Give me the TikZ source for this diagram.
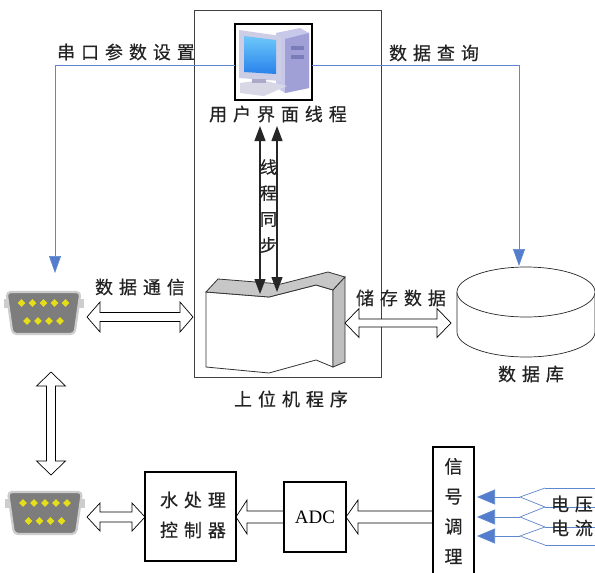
\documentclass[tikz,border=0pt]{standalone}
\usepackage{fontspec}
\setmainfont{Liberation Serif}
\newfontfamily\cjk[LetterSpace=33,FakeBold=0.5]{Noto Sans CJK SC}
\newfontfamily\cjkv[FakeBold=0.5]{Noto Sans CJK SC}
\usetikzlibrary{arrows.meta,calc}

\definecolor{wireblue}{RGB}{95,135,205}
\definecolor{tipblue}{RGB}{85,125,205}
\definecolor{txt}{RGB}{35,35,35}
\definecolor{pinyellow}{RGB}{230,222,25}
\definecolor{plug}{RGB}{125,125,125}
\definecolor{plugrim}{RGB}{205,205,205}

% letter-spaced label text without the trailing space
\newcommand\lst[1]{#1\kern-0.33em}

% hollow double-headed arrow between two points
% #3 shaft half width, #4 head half width, #5 head length
\newcommand\dblhollow[5]{%
  \path[hollow] let \p1=(#1), \p2=(#2),
      \n1={veclen(\x2-\x1,\y2-\y1)}, \n2={atan2(\y2-\y1,\x2-\x1)} in
    [shift={(\p1)}, rotate=\n2]
    (0,0) -- (#5,#4) -- (#5,#3) -- (\n1-#5,#3) -- (\n1-#5,#4) -- (\n1,0)
    -- (\n1-#5,-#4) -- (\n1-#5,-#3) -- (#5,-#3) -- (#5,-#4) -- cycle;}

% hollow single-headed arrow, open tail
\newcommand\onehollow[5]{%
  \path[hollow] let \p1=(#1), \p2=(#2),
      \n1={veclen(\x2-\x1,\y2-\y1)}, \n2={atan2(\y2-\y1,\x2-\x1)} in
    [shift={(\p1)}, rotate=\n2]
    (0,#3) -- (\n1-#5,#3) -- (\n1-#5,#4) -- (\n1,0)
    -- (\n1-#5,-#4) -- (\n1-#5,-#3) -- (0,-#3);}

% serial (DB9) connector icon
\newcommand\serialport[2]{%
  \begin{scope}[shift={(#1)}]
    \coordinate (#2) at (0,0);
    \fill[plugrim] (-40,-14) rectangle (-35,-5);
    \fill[plugrim] (35,-14) rectangle (40,-5);
    \draw[plugrim, line width=2.2pt, fill=plug, rounded corners=4pt]
      (-37,-21) -- (37,-21) -- (31,21) -- (-31,21) -- cycle;
    \foreach \px in {-22,-11,0,11,22}
      \fill[pinyellow] (\px,-10) +(-3.8,0) -- +(0,-3.8) -- +(3.8,0) -- +(0,3.8) -- cycle;
    \foreach \px in {-16.5,-5.5,5.5,16.5}
      \fill[pinyellow] (\px,8) +(-3.8,0) -- +(0,-3.8) -- +(3.8,0) -- +(0,3.8) -- cycle;
  \end{scope}}

\begin{document}
\begin{tikzpicture}[x=1pt,y=-1pt,
  lbl/.style={font=\cjk\fontsize{18}{18}\selectfont, text=txt, inner sep=0pt},
  vlbl/.style={font=\cjkv\fontsize{17}{26}\selectfont, text=txt, inner sep=0pt, align=center},
  box/.style={draw=black, line width=1.2pt, fill=white},
  frame/.style={draw=black!75, line width=0.9pt},
  hollow/.style={draw=black, line width=0.7pt, fill=white, line join=miter},
  wire/.style={draw=wireblue, line width=0.7pt},
  bluetip/.style={-{Triangle[length=17pt,width=12pt,fill=tipblue]}},
  intip/.style={-{Triangle[length=18pt,width=15pt,fill=tipblue]}},
  sync/.style={draw=black!85, line width=1.2pt,
    {Triangle[length=15pt,width=11pt]}-{Triangle[length=15pt,width=11pt]}},
  progline/.style={draw=black!80, line width=0.8pt},
]
\useasboundingbox (0,0) rectangle (595,573);

% host program frame
\draw[frame] (194,10) rectangle (381,377);
\node[lbl] (hostlbl) at (288,399) {\lst{上位机程序}};

% user-interface thread: computer icon
\begin{scope}
  \draw[line width=1.3pt, fill=white] (235,24) rectangle (312,100);
  \coordinate (iconW) at (235,65);
  \coordinate (iconE) at (312,65);
  % tower
  \fill[fill={rgb,255:red,200;green,200;blue,235}] (276,33) -- (300,28) -- (309,33) -- (309,88) -- (285,93) -- (276,87) -- cycle;
  \fill[fill={rgb,255:red,160;green,160;blue,215}] (285,39) -- (309,33) -- (309,88) -- (285,93) -- cycle;
  \fill[fill={rgb,255:red,120;green,125;blue,185}] (291,46) rectangle (304,50);
  \fill[fill={rgb,255:red,120;green,125;blue,185}] (291,55) rectangle (304,59);
  % monitor
  \fill[fill={rgb,255:red,205;green,205;blue,230}] (239,30) -- (281,36) -- (281,81) -- (239,78) -- cycle;
  \shade[top color={rgb,255:red,110;green,200;blue,250}, bottom color={rgb,255:red,40;green,130;blue,235}]
    (244,36) -- (276,40) -- (276,74) -- (244,72) -- cycle;
  % stand and keyboard
  \fill[fill={rgb,255:red,215;green,215;blue,230}] (240,83) -- (262,80) -- (287,86) -- (264,96) -- (240,93) -- cycle;
  \fill[fill={rgb,255:red,170;green,170;blue,200}] (252,79) rectangle (266,83);
\end{scope}
\node[lbl] (ui) at (275,114) {\lst{用户界面线程}};

% program block
\coordinate (progL) at (260,294);
\coordinate (progR) at (277,292);
\coordinate (progE) at (345,323);
\filldraw[progline, fill=white] (206,292) -- (269,297) -- (316,285) -- (333,290)
  -- (333,367) -- (316,360) -- (269,373) -- (206,367) -- cycle;
\filldraw[progline, fill=black!22] (206,292) -- (218,279) -- (281,284) -- (328,272)
  -- (345,277) -- (333,290) -- (316,285) -- (269,297) -- cycle;
\filldraw[progline, fill=black!25] (333,290) -- (345,277) -- (345,362) -- (333,367) -- cycle;

% thread synchronisation
\coordinate (uiL) at (260,126);
\coordinate (uiR) at (277,126);
\draw[sync] (uiL) -- (progL);
\draw[sync] (uiR) -- (progR);
\node[vlbl] (synclbl) at (268.5,206) {线\\程\\同\\步};

% database
\coordinate (dbTop) at (519,266);
\coordinate (dbW) at (451,323);
\draw[black!85, line width=0.7pt, fill=white] (457,292) -- (457,332)
  arc[start angle=180, end angle=0, x radius=69, y radius=25] -- (595,292);
\draw[black!85, line width=0.7pt, fill=white] (526,292) ellipse[x radius=69, y radius=25];
\node[lbl] (dblbl) at (528,374) {\lst{数据库}};

% storage link
\dblhollow{progE}{dbW}{4}{14.5}{14}
\node[lbl] (storelbl) at (398,298) {\lst{储存数据}};

% serial ports
\serialport{43.5,313}{portA}
\serialport{45,513}{portB}
\coordinate (portAE) at (87,317);
\coordinate (hostW) at (193,317);
\coordinate (portAS) at (51,372);
\coordinate (portBN) at (51,475);
\coordinate (portBE) at (87,517);
\dblhollow{portAE}{hostW}{4.5}{15}{13}
\node[lbl] (commlbl) at (137,287) {\lst{数据通信}};
\dblhollow{portAS}{portBN}{4.5}{14.5}{14}

% settings and queries from the UI thread
\coordinate (portAN) at (55,273);
\draw[wire, bluetip] (iconW) -| (portAN);
\node[lbl] (setlbl) at (123,52) {\lst{串口参数设置}};
\draw[wire, bluetip] (iconE) -| (dbTop);
\node[lbl] (querylbl) at (431,53) {\lst{数据查询}};

% acquisition chain
\coordinate (ctrlE) at (236,517);
\coordinate (ctrlW) at (145,517);
\coordinate (adcW) at (284,517);
\coordinate (adcE) at (346,517);
\coordinate (sigW) at (433,517);
\dblhollow{portBE}{ctrlW}{5}{14}{13}
\onehollow{adcW}{ctrlE}{6}{17}{11}
\onehollow{sigW}{adcE}{6}{17}{12}

\node[box, minimum width=91pt, minimum height=89pt, inner sep=0pt] (ctrl) at (190.5,516.5) {};
\node[lbl] (ctrlA) at (190,500) {\lst{水处理}};
\node[lbl] (ctrlB) at (190,530) {\lst{控制器}};
\node[box, minimum width=62pt, minimum height=70pt, inner sep=0pt,
  font=\fontsize{19}{19}\selectfont] (adc) at (315,517) {ADC};
\draw[line width=1.2pt, fill=white] (433,585) -- (433,447) -- (474,447) -- (474,585);
\node[vlbl, font=\cjkv\fontsize{18}{30}\selectfont] (siglbl) at (453.5,511) {信\\号\\调\\理};

% voltage and current inputs
\foreach \k/\ya/\yb/\yc in {1/488/497/507, 2/507/517/527, 3/527/536/545} {
  \coordinate (fork\k) at (520,\yb);
  \coordinate (sigin\k) at (477,\yb);
  \draw[wire] (545,\ya) -- (fork\k) -- (545,\yc);
  \draw[wire, intip] (fork\k) -- (sigin\k);
}
\foreach \yw in {488,507,527,545}
  \draw[wire] (545,\yw) -- (595,\yw);
\node[lbl] (vlbl) at (569,504) {\lst{电压}};
\node[lbl] (ilbl) at (569,528) {\lst{电流}};
\end{tikzpicture}
\end{document}
